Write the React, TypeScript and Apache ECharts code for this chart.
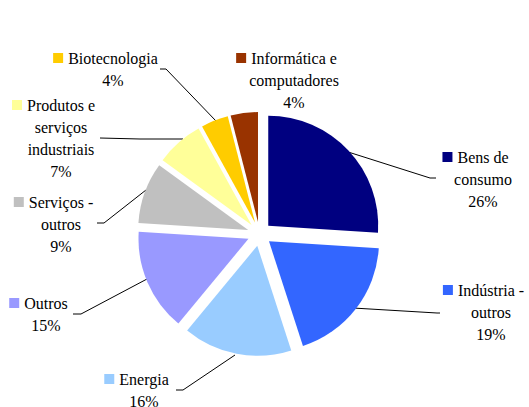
import React, { useEffect, useRef } from "react";
import * as echarts from "echarts";

const categories = [
  "Bens de\nconsumo",
  "Indústria -\noutros",
  "Energia",
  "Outros",
  "Serviços -\noutros",
  "Produtos e\nserviços\nindustriais",
  "Biotecnologia",
  "Informática e\ncomputadores",
];
const values = [26, 19, 16, 15, 9, 7, 4, 4];
const colors = ["#000080", "#3366FF", "#99CCFF", "#9999FF", "#C0C0C0", "#FFFF99", "#FFCC00", "#993300"];

// label layout: text centre x, first line centre y, leader line points (slice -> label)
const labelPos: { cx: number; y1: number; line: number[][] | null }[] = [
  { cx: 483, y1: 157, line: [[345, 151], [430, 178], [436, 178]] },
  { cx: 491, y1: 290, line: [[353, 308], [437, 313], [440, 313]] },
  { cx: 144, y1: 379, line: [[235, 355], [183, 390], [176, 390]] },
  { cx: 46, y1: 303, line: [[147, 279], [81, 314], [73, 314]] },
  { cx: 61, y1: 202, line: [[146, 190], [104, 223], [97, 223]] },
  { cx: 61, y1: 105, line: [[183, 139], [140, 139], [100, 138]] },
  { cx: 113, y1: 58, line: [[216, 121], [166, 69], [160, 69]] },
  { cx: 294, y1: 58, line: null },
];

const LINE_H = 22;
const FONT_SIZE = 16;
const FONT_FAMILY = "Liberation Serif";

function measure(text: string): number {
  const c = document.createElement("canvas").getContext("2d");
  if (!c) return text.length * 7;
  c.font = `${FONT_SIZE}px "${FONT_FAMILY}", serif`;
  return c.measureText(text).width;
}

export default function App() {
  const ref = useRef<HTMLDivElement>(null);
  useEffect(() => {
    if (!ref.current) return;
    const chart = echarts.init(ref.current, null, { renderer: "svg" });
    const data = categories.map((name, i) => ({
      name,
      value: values[i],
      selected: true,
      itemStyle: { color: colors[i], borderWidth: 0 },
      select: { itemStyle: { color: colors[i], borderWidth: 0 } },
    }));

    const graphics: any[] = [];
    categories.forEach((name, i) => {
      const lp = labelPos[i];
      const lines = [...name.split("\n"), `${values[i]}%`];
      lines.forEach((line, k) => {
        graphics.push({
          type: "text",
          x: lp.cx,
          y: lp.y1 + k * LINE_H,
          style: {
            text: line,
            align: "center",
            verticalAlign: "middle",
            fontFamily: FONT_FAMILY,
            fontSize: FONT_SIZE,
            fill: "#000",
          },
        });
      });
      const w0 = measure(lines[0]);
      graphics.push({
        type: "rect",
        shape: { x: lp.cx - w0 / 2 - 15, y: lp.y1 - 5, width: 10, height: 10 },
        style: { fill: colors[i] },
      });
      if (lp.line) {
        graphics.push({
          type: "polyline",
          shape: { points: lp.line },
          style: { stroke: "#000", lineWidth: 1, fill: null },
        });
      }
    });

    chart.setOption({
      animation: false,
      backgroundColor: "#fff",
      graphic: graphics,
      series: [
        {
          type: "pie",
          center: [259.5, 234],
          radius: 110,
          startAngle: 90,
          clockwise: true,
          selectedMode: "multiple",
          selectedOffset: 12,
          avoidLabelOverlap: false,
          emphasis: { disabled: true },
          label: { show: false },
          labelLine: { show: false },
          data,
        },
      ],
    });
    return () => chart.dispose();
  }, []);
  return (
    <div
      ref={ref}
      style={{ position: "absolute", left: 0, top: 0, width: 529, height: 407 }}
    />
  );
}
